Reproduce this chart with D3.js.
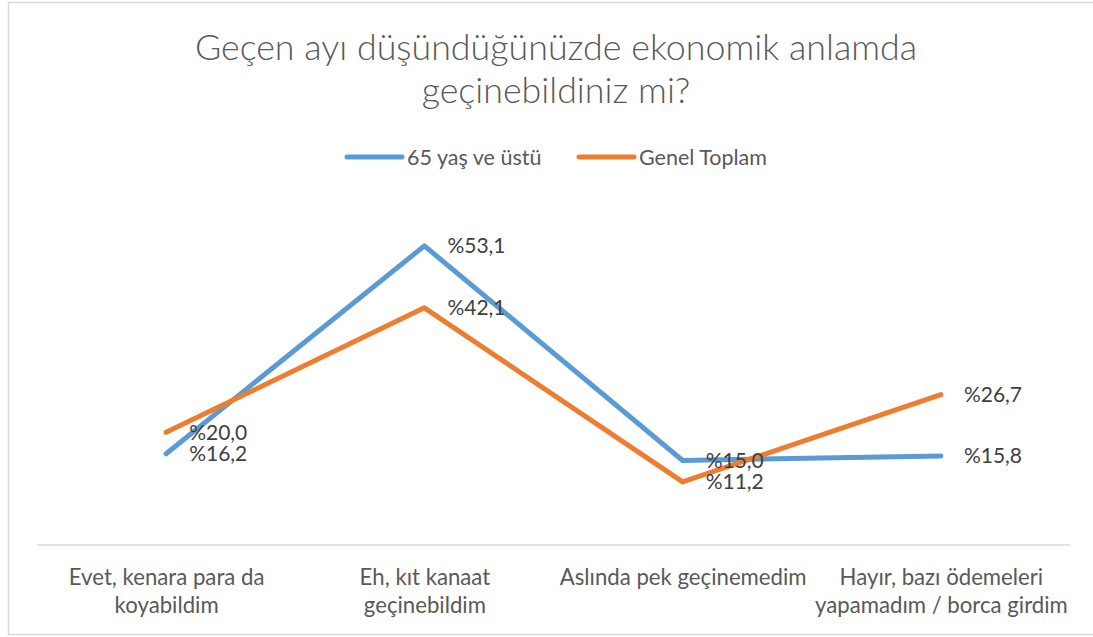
<!DOCTYPE html>
<html>
<head>
<meta charset="utf-8">
<script src="https://cdn.jsdelivr.net/npm/d3@7/dist/d3.min.js"></script>
<style>
  body { margin: 0; background: #ffffff; }
  svg text { font-family: Lato, "Open Sans", sans-serif; }
</style>
</head>
<body>
<div id="chart"></div>
<script>
// data
var categories = [
  "Evet, kenara para da\nkoyabildim",
  "Eh, kıt kanaat\ngeçinebildim",
  "Aslında pek geçinemedim",
  "Hayır, bazı ödemeleri\nyapamadım / borca girdim"
];
var seriesNames = ["65 yaş ve üstü", "Genel Toplam"];
var olderValues = [16.2, 53.1, 15.0, 15.8];
var totalValues = [20.0, 42.1, 11.2, 26.7];
var seriesColors = ["#5B9BD5", "#ED7D31"];
var titleLines = ["Geçen ayı düşündüğünüzde ekonomik anlamda", "geçinebildiniz mi?"];

var width = 1093, height = 637;

var svg = d3.select("#chart")
  .append("svg")
  .attr("width", width)
  .attr("height", height);

// chart border
svg.append("rect")
  .attr("x", 8.5).attr("y", 2.5)
  .attr("width", 1100).attr("height", 632)
  .attr("fill", "#ffffff")
  .attr("stroke", "#d9d9d9")
  .attr("stroke-width", 1.5);

var x = d3.scalePoint()
  .domain(categories)
  .range([37, 1070])
  .padding(0.5);

var y = d3.scaleLinear()
  .domain([0, 60])
  .range([545, 207]);

// title
svg.append("text")
  .attr("text-anchor", "middle")
  .attr("fill", "#595959")
  .style("font-size", "35.8px")
  .style("font-weight", 300)
  .selectAll("tspan")
  .data(titleLines)
  .enter()
  .append("tspan")
  .attr("x", 556)
  .attr("y", function(d, i) { return 60 + i * 43; })
  .text(function(d) { return d; });

// legend
var legendX = [347, 579];
var legend = svg.selectAll(".legend")
  .data(seriesNames)
  .enter()
  .append("g")
  .attr("class", "legend")
  .attr("transform", function(d, i) { return "translate(" + legendX[i] + ",157)"; });
legend.append("line")
  .attr("x1", 0).attr("x2", 55)
  .attr("stroke", function(d, i) { return seriesColors[i]; })
  .attr("stroke-width", 5)
  .attr("stroke-linecap", "round");
legend.append("text")
  .attr("x", 60)
  .attr("dy", "0.35em")
  .attr("fill", "#595959")
  .style("font-size", "21.5px")
  .text(function(d) { return d; });

// x axis
var xAxis = svg.append("g")
  .attr("transform", "translate(0,545)")
  .call(d3.axisBottom(x).tickSize(0).tickSizeOuter(0));
xAxis.select(".domain")
  .attr("stroke", "#d9d9d9")
  .attr("stroke-width", 1.5)
  .attr("d", "M37,0H1070");
xAxis.selectAll(".tick text").remove();
xAxis.selectAll(".tick")
  .append("text")
  .attr("text-anchor", "middle")
  .attr("fill", "#595959")
  .style("font-size", "22.2px")
  .selectAll("tspan")
  .data(function(d) { return d.split("\n"); })
  .enter()
  .append("tspan")
  .attr("x", 0)
  .attr("y", function(d, i) { return 40 + i * 28; })
  .text(function(d) { return d; });

// lines
var seriesData = [olderValues, totalValues];
var line = d3.line()
  .x(function(d, i) { return x(categories[i]); })
  .y(function(d) { return y(d); });

svg.selectAll(".series")
  .data(seriesData)
  .enter()
  .append("path")
  .attr("class", "series")
  .attr("d", line)
  .attr("fill", "none")
  .attr("stroke", function(d, i) { return seriesColors[i]; })
  .attr("stroke-width", 5)
  .attr("stroke-linejoin", "round")
  .attr("stroke-linecap", "round");

// data labels
function fmt(v) { return "%" + v.toFixed(1).replace(".", ","); }
seriesData.forEach(function(values) {
  svg.selectAll(null)
    .data(values)
    .enter()
    .append("text")
    .attr("x", function(d, i) { return x(categories[i]) + 23; })
    .attr("y", function(d) { return y(d); })
    .attr("dy", "0.35em")
    .attr("fill", "#404040")
    .style("font-size", "21px")
    .text(fmt);
});
</script>
</body>
</html>
